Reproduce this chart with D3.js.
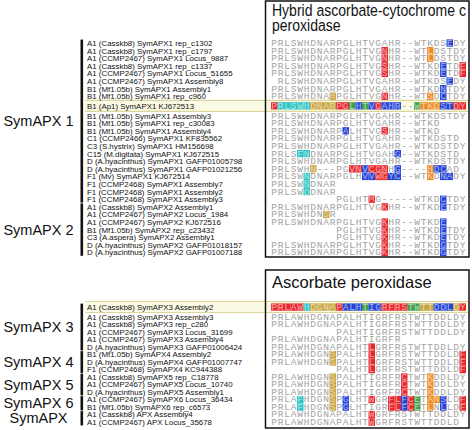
<!DOCTYPE html>
<html><head><meta charset="utf-8">
<script src="https://cdn.jsdelivr.net/npm/d3@7"></script>
<style>body{margin:0;background:#fff} svg{display:block}</style>
</head><body><svg id="c" width="472" height="430"></svg>
<script>
const topTitle = ["Hybrid ascorbate-cytochrome c", "peroxidase"];
const topLabels = [
"A1 (Casskb8) SymAPX1 rep_c1302",
"A1 (Casskb8) SymAPX1 rep_c1797",
"A1 (CCMP2467) SymAPX1 Locus_9887",
"A1 (Casskb8) SymAPX1 rep_c1337",
"A1 (CCMP2467) SymAPX1 Locus_51655",
"A1 (CCMP2467) SymAPX1 Assembly8",
"B1 (Mf1.05b) SymAPX1 Assembly1",
"B1 (Mf1.05b) SymAPX1 rep_c960",
"B1 (Ap1) SymAPX1 KJ672513",
"B1 (Mf1.05b) SymAPX1 Assembly3",
"B1 (Mf1.05b) SymAPX1 rep_c30083",
"B1 (Mf1.05b) SymAPX1 Assembly4",
"C1 (CCMP2466) SymAPX1 KF835562",
"C3 (S.hystrix) SymAPX1 HM156698",
"C15 (M.digitata) SymAPX1 KJ672515",
"D (A.hyacinthus) SymAPX1 GAFP01005798",
"D (A.hyacinthus) SymAPX1 GAFP01021256",
"F1 (Mv) SymAPX1 KJ672514",
"F1 (CCMP2468) SymAPX1 Assembly7",
"F1 (CCMP2468) SymAPX1 Assembly2",
"F1 (CCMP2468) SymAPX1 Assembly3",
"A1 (Casskb8) SymAPX2 Assembly1",
"A1 (CCMP2467) SymAPX2 Locus_1984",
"A1 (CCMP2467) SymAPX2 KJ672516",
"B1 (Mf1.05b) SymAPX2 rep_c23432",
"C3 (A.aspera) SymAPX2 Assembly1",
"D (A.hyacinthus) SymAPX2 GAFP01018157",
"D (A.hyacinthus) SymAPX2 GAFP01007188"];
const topSeqs = [
"PRLSWHDNARPGLHTVGAHR--WTKDSEDY",
"PRLSWHDNARPGLHTVGNHR--WTLDSTDY",
"PRLSWHDNARPGLHTVGNHR--WTLDSTDY",
"PRLSWHDNARPGLHTVGSHR--WTKDETDF",
"PRLSWHDNARPGLHTVGSHR--WTKDETDF",
" RLSWHDNARPGLHTVGAHR--WTKDSEDY",
"PRLSWHDNARPGLHTVGAHR--WTKDNTDY",
"PRLSWHDNAHPGLHTVGNHR--WTSDCTDY",
"PRLSWHDNARPGLHTVGAHR--WTKDSTDY",
"PRLSWHDNARPGLHTVGAHR--WTKDSTDY",
"PRLSWHDNARPGLHTVGAHR--WTKD",
"PRLSWHDNARPALHTVGSHR--WTKD",
"PRLSWHDNARPGLHTVGAHR--WTKDSTD",
"PRLSWHDNARPGLHTVGAHR--WTKDSTDY",
"PRLSFNDNARPGLHTVGAHG--WTKDSTD",
"PRLSWHDNARPGLHTVGAHR--WTKDSTDY",
"PRLSWHN---PGVNVCGNHG----HDCAD",
"PRLSWNDNARPGLHVVWGYC--WTKDNADY",
"PRLSWNDNAR",
"PRLSWQDNAR",
"          PGLHTMG-----WTKDCTDY",
"PRLSWHDNARPGLHTVGKHR--WTKDETDY",
"PRLSWHDNSR",
"PRLSWHDNARPGLHTVGKHR--WTKDE",
"          PGLHTVGKHR--WTKDETDY",
"          PGLHTVGKHR--WTKDETDY",
"PRLSWHDNARPGLHTVGKHR--WTKDGTDY",
"PRLSWHDNARPGLHTVGKHR--WTKDGTDY"];
const topMarks = [
"...........................B..",
".................R......O.....",
".................R......O.....",
".................R........B..R",
".................R........B..R",
"...........................B..",
"..........................B...",
".........G.......R......O.B...",
"RCCCCCGGGGRRNBNBRBBB..NOOOBBRR",
"..............................",
"..............................",
"...........B.....R............",
"..............................",
"..............................",
"....CC.............B..........",
"..............................",
"......G.....RRBRRR.B....OBB...",
".....C........BBRRBB....O.BB..",
".....C........................",
".....C........................",
"...............R..........B...",
".................R........B...",
"........G.....................",
".................R........B...",
".................R........B...",
".................R........B...",
".................R........B...",
".................R........B..."];
const topHighlight = 8;
const topGroups = ["SymAPX 1", "SymAPX 2"];
const topGroupRows = [[0, 20], [21, 27]];

const bottomTitle = ["Ascorbate peroxidase"];
const bottomLabels = [
"A1 (Casskb8) SymAPX3 Assembly2",
"A1 (Casskb8) SymAPX3 Assembly3",
"A1 (Casskb8) SymAPX3 rep_c280",
"A1 (CCMP2467) SymAPX3 Locus_31699",
"A1 (CCMP2467) SymAPX3 Assembly4",
"D (A.hyacinthus) SymAPX3 GAFP01006424",
"B1 (Mf1.05b) SymAPX4 Assembly2",
"D (A.hyacinthus) SymAPX4 GAFP01007747",
"F1 (CCMP2468) SymAPX4 KC944388",
"A1 (Casskb8) SymAPX5 rep_C18778",
"A1 (CCMP2467) SymAPX5 Locus_10740",
"D (A.hyacinthus) SymAPX5 Assembly1",
"A1 (CCMP2467) SymAPX6 Locus_36434",
"B1 (Mf1.05b) SymAPX6 rep_c6573",
"A1 (Casskb8) APX Assembly4",
"A1 (CCMP2467) APX Locus_35678"];
const bottomSeqs = [
"PRLAWHDGNAPALHTIGRFRSTWTTDDLDY",
"PRLAWHDGNAPALHTIGRFRSTWTTDDLDY",
"PRLAWHDGNAPALHTIGRFRSTWTTDDLDY",
"          PALHTIGRFRSTWTTDDLDY",
"PRLAWHDGNAPALHTIGRFR",
"PRLAWHDGNAPALHTLGRFRSTWTTDDLDY",
"PRLAWHDGNSPALHTLGRFRSTWTTDDLDF",
"PRLAWHDGNSPALHTLGRFRSTWTTDDLDF",
"          PALHTLGRFRSTWTTDDLDF",
"PRLAWHDGNSPALHTIGRFRCTWTKDDLDY",
"PRLAWHDGNSPALHTIGRFRCTWTKDDLDY",
"PRLAWHDGNSPALHTIGRFRCTWTKDDLDY",
"PRLAFHDGNSPGLHTWGRFLFCETANSLDF",
"PRLAFHDGNSPGLHTIGRFLFCETLNLLDF",
"PRLAWHDGNAPALHTWGRFRSTWTTDDLDY",
"PRLAWHDGNAPALHTWGRFRSTWTTDDLD"];
const bottomMarks = [
"RRRRRCGGGGRBBBNBBRRRRNNGGBBBGR",
"..............................",
"..............................",
"..............................",
"..............................",
"...............R..............",
".........G.....R.............R",
".........G.....R.............R",
"...............R.............R",
".........G..........R...O.....",
".........G..........R...O.....",
".........G..........R...O.....",
"....C....G.B...R..RRBRN.OOB..R",
"....C....G.B......RRBRN.O.B..R",
"...............R..............",
"...............R.............."];
const bottomHighlight = 0;
const bottomGroups = ["SymAPX 3", "SymAPX 4", "SymAPX 5", "SymAPX 6", "SymAPX"];
const bottomGroupRows = [[0, 5], [6, 8], [9, 11], [12, 13], [14, 15]];

const markColor = d3.scaleOrdinal()
  .domain(["R", "B", "O", "G", "C", "N"])
  .range(["#e8262b", "#2443d8", "#f08a24", "#c9a440", "#2cc4c4", "#3f9f4c"]);

const svg = d3.select("#c");
const col = d3.scaleBand().domain(d3.range(30)).range([271, 466]);

const topRow = d3.scaleLinear().domain([0, 27]).range([43, 248.2]);
const topY = i => topRow(i) + (i >= 8 ? 2 : 0) + (i >= 9 ? 2.2 : 0);
const botRow = d3.scaleLinear().domain([0, 15]).range([307, 419.5]);
const botY = i => botRow(i) + (i >= 1 ? 2.5 : 0);

function panel(o) {
  const g = svg.append("g");
  g.append("rect").attr("x", 265.5).attr("y", o.boxTop).attr("width", 203.5)
    .attr("height", o.boxBottom - o.boxTop).attr("fill", "#fff");
  // highlight band
  const hy = o.y(o.hi);
  g.append("rect").attr("x", 85).attr("y", hy - 5.5).attr("width", 384).attr("height", 11)
    .attr("fill", "#fbfbe5");
  g.selectAll("line.hb").data([hy - 5.5, hy + 5.5]).join("line")
    .attr("x1", 85).attr("x2", 469).attr("y1", d => d).attr("y2", d => d)
    .attr("stroke", "#dcd69e").attr("stroke-width", 1.2);
  // labels
  g.append("g").selectAll("text").data(o.labels).join("text")
    .attr("x", 87).attr("y", (d, i) => o.y(i) + 2.9)
    .attr("font-family", "Liberation Sans, Arial, sans-serif").attr("font-size", 7.9)
    .attr("fill", "#111").text(d => d);
  // sequences: per row, one grey text + one text for coloured residues, each char placed by the column scale
  o.seqs.forEach((s, i) => {
    const cells = s.split("").map((ch, j) => ({ch, j, m: o.marks[i][j]})).filter(d => d.ch !== " ");
    const plain = cells.filter(d => d.m === ".");
    const marked = cells.filter(d => d.m !== ".");
    g.append("g").selectAll("rect").data(marked).join("rect")
      .attr("x", d => col(d.j)).attr("y", o.y(i) - 3.6)
      .attr("width", col.bandwidth()).attr("height", 7.3)
      .attr("fill", d => markColor(d.m));
    [[plain, "#a2a2a2"], [marked, "rgba(255,255,255,0.6)"]].forEach(([arr, fill]) => {
      if (!arr.length) return;
      g.append("text").attr("y", o.y(i) + 2.9)
        .attr("x", arr.map(d => (col(d.j) + col.bandwidth() / 2).toFixed(2)).join(" "))
        .attr("text-anchor", "middle")
        .attr("font-family", "Liberation Mono, Courier New, monospace").attr("font-size", 9.6)
        .attr("fill", fill)
        .text(arr.map(d => d.ch).join(""));
    });
  });
  // group bars + labels
  o.groupRows.forEach((r, k) => {
    const y0 = o.y(r[0]) - 3.4, y1 = o.y(r[1]) + 3.4;
    g.append("rect").attr("x", 80.5).attr("y", y0).attr("width", 2.6).attr("height", y1 - y0).attr("fill", "#111");
    g.append("text").attr("x", 38.5).attr("y", (y0 + y1) / 2 + 5)
      .attr("text-anchor", "middle")
      .attr("font-family", "Liberation Sans, Arial, sans-serif").attr("font-size", 14.5)
      .attr("fill", "#111").text(o.groups[k]);
  });
  // box border
  g.append("rect").attr("x", 265.5).attr("y", o.boxTop).attr("width", 203.5)
    .attr("height", o.boxBottom - o.boxTop).attr("fill", "none")
    .attr("stroke", "#111").attr("stroke-width", 1.5);
  // title
  const tg = g.append("g").attr("transform", `translate(272,0) scale(${o.titleScale},1)`);
  tg.selectAll("text").data(o.title).join("text")
    .attr("x", 0).attr("y", (d, i) => o.titleY + i * 15.5)
    .attr("font-family", "Liberation Sans, Arial, sans-serif").attr("font-size", 16.5)
    .attr("fill", "#111").text(d => d);
}

panel({labels: topLabels, seqs: topSeqs, marks: topMarks, hi: topHighlight,
  groups: topGroups, groupRows: topGroupRows, y: topY, boxTop: 1, boxBottom: 257,
  title: topTitle, titleY: 16, titleScale: 0.85});
panel({labels: bottomLabels, seqs: bottomSeqs, marks: bottomMarks, hi: bottomHighlight,
  groups: bottomGroups, groupRows: bottomGroupRows, y: botY, boxTop: 270, boxBottom: 428,
  title: bottomTitle, titleY: 288, titleScale: 1});
</script></body></html>
